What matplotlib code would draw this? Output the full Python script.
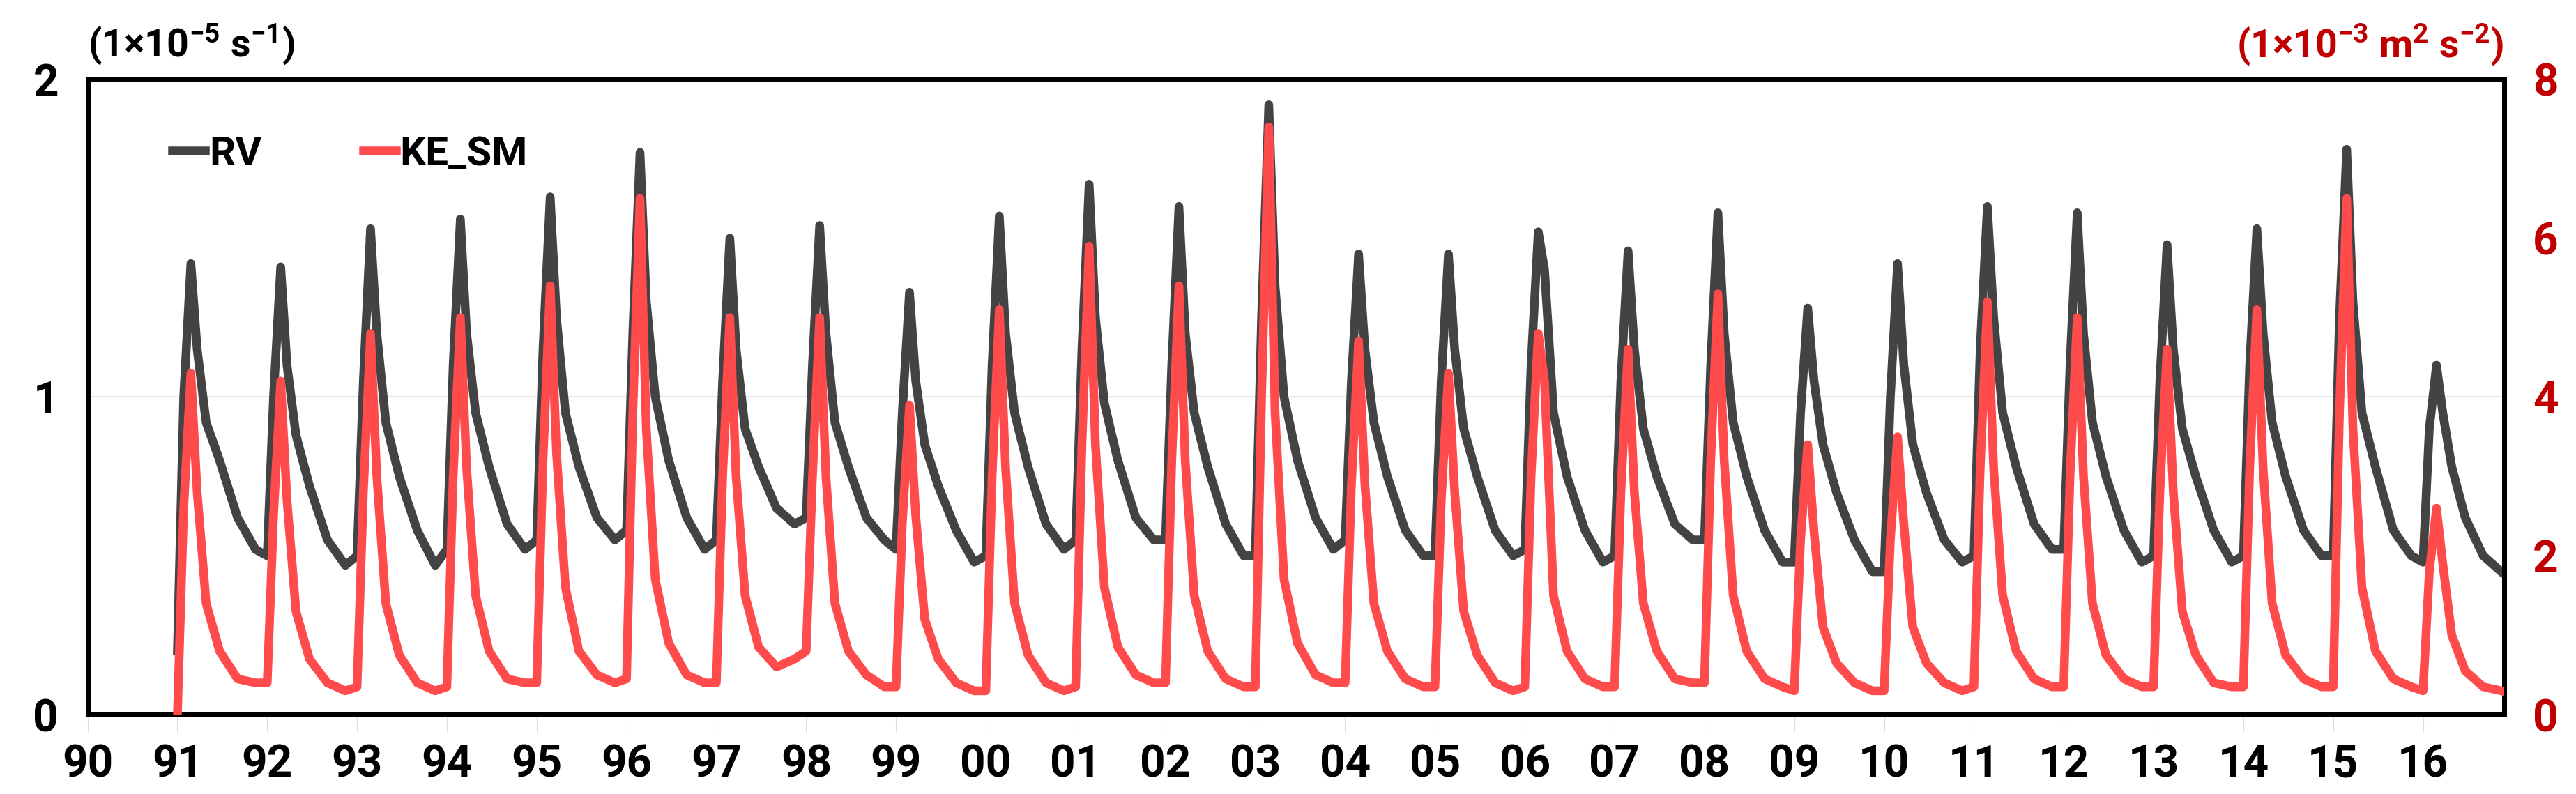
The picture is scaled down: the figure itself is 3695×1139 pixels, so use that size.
import numpy as np
import matplotlib.pyplot as plt

plt.rcParams['font.family'] = ['Roboto', 'DejaVu Sans']
plt.rcParams['font.weight'] = 'bold'
plt.rcParams['mathtext.default'] = 'regular'

years = list(range(1991, 2017))
# time offsets within each year for the key points below
offsets = [0.00, 0.07, 0.15, 0.22, 0.32, 0.47, 0.67, 0.87]

# RV (1e-5 s^-1), key points per year
rv = [
    [0.20, 1.00, 1.42, 1.15, 0.92, 0.80, 0.62, 0.52],
    [0.50, 1.00, 1.41, 1.10, 0.88, 0.72, 0.55, 0.47],
    [0.50, 1.05, 1.53, 1.20, 0.92, 0.75, 0.58, 0.47],
    [0.52, 1.10, 1.56, 1.20, 0.95, 0.78, 0.60, 0.52],
    [0.55, 1.15, 1.63, 1.25, 0.95, 0.78, 0.62, 0.55],
    [0.58, 1.20, 1.77, 1.30, 1.00, 0.80, 0.62, 0.52],
    [0.55, 1.05, 1.50, 1.15, 0.90, 0.78, 0.65, 0.60],
    [0.62, 1.10, 1.54, 1.20, 0.92, 0.78, 0.62, 0.55],
    [0.52, 0.95, 1.33, 1.05, 0.85, 0.72, 0.58, 0.48],
    [0.50, 1.10, 1.57, 1.20, 0.95, 0.78, 0.60, 0.52],
    [0.55, 1.15, 1.67, 1.25, 0.98, 0.80, 0.62, 0.55],
    [0.55, 1.10, 1.60, 1.20, 0.95, 0.78, 0.60, 0.50],
    [0.50, 1.25, 1.92, 1.35, 1.00, 0.80, 0.62, 0.52],
    [0.55, 1.05, 1.45, 1.15, 0.92, 0.75, 0.58, 0.50],
    [0.50, 1.05, 1.45, 1.15, 0.90, 0.75, 0.58, 0.50],
    [0.52, 1.10, 1.52, 1.40, 0.95, 0.75, 0.58, 0.48],
    [0.50, 1.05, 1.46, 1.15, 0.90, 0.75, 0.60, 0.55],
    [0.55, 1.10, 1.58, 1.20, 0.92, 0.75, 0.58, 0.48],
    [0.48, 0.95, 1.28, 1.05, 0.85, 0.70, 0.55, 0.45],
    [0.45, 1.00, 1.42, 1.10, 0.85, 0.70, 0.55, 0.48],
    [0.50, 1.15, 1.60, 1.25, 0.95, 0.78, 0.60, 0.52],
    [0.52, 1.10, 1.58, 1.20, 0.92, 0.75, 0.58, 0.48],
    [0.50, 1.05, 1.48, 1.15, 0.90, 0.75, 0.58, 0.48],
    [0.50, 1.10, 1.53, 1.20, 0.92, 0.75, 0.58, 0.50],
    [0.50, 1.25, 1.78, 1.30, 0.95, 0.78, 0.58, 0.50],
    [0.48, 0.90, 1.10, 0.95, 0.78, 0.62, 0.50, 0.45],
]

# KE_SM (1e-3 m^2 s^-2), key points per year
ke = [
    [0.00, 2.60, 4.30, 2.80, 1.40, 0.80, 0.45, 0.40],
    [0.40, 2.50, 4.20, 2.70, 1.30, 0.70, 0.40, 0.30],
    [0.35, 2.80, 4.80, 3.00, 1.40, 0.75, 0.40, 0.30],
    [0.35, 3.00, 5.00, 3.10, 1.50, 0.80, 0.45, 0.40],
    [0.40, 3.20, 5.40, 3.30, 1.60, 0.80, 0.50, 0.40],
    [0.45, 3.80, 6.50, 3.60, 1.70, 0.90, 0.50, 0.40],
    [0.40, 3.00, 5.00, 3.00, 1.50, 0.85, 0.60, 0.70],
    [0.80, 3.00, 5.00, 3.00, 1.40, 0.80, 0.50, 0.35],
    [0.35, 2.40, 3.90, 2.50, 1.20, 0.70, 0.40, 0.30],
    [0.30, 3.00, 5.10, 3.10, 1.40, 0.75, 0.40, 0.30],
    [0.35, 3.40, 5.90, 3.40, 1.60, 0.85, 0.50, 0.40],
    [0.40, 3.20, 5.40, 3.20, 1.50, 0.80, 0.45, 0.35],
    [0.35, 4.00, 7.40, 3.80, 1.70, 0.90, 0.50, 0.40],
    [0.40, 2.90, 4.70, 2.90, 1.40, 0.80, 0.45, 0.35],
    [0.35, 2.70, 4.30, 2.80, 1.30, 0.75, 0.40, 0.30],
    [0.35, 3.00, 4.80, 4.20, 1.50, 0.80, 0.45, 0.35],
    [0.35, 2.80, 4.60, 2.80, 1.40, 0.80, 0.45, 0.40],
    [0.40, 3.20, 5.30, 3.20, 1.50, 0.80, 0.45, 0.35],
    [0.30, 2.20, 3.40, 2.30, 1.10, 0.65, 0.40, 0.30],
    [0.30, 2.20, 3.50, 2.40, 1.10, 0.65, 0.40, 0.30],
    [0.35, 3.10, 5.20, 3.10, 1.50, 0.80, 0.45, 0.35],
    [0.35, 3.00, 5.00, 3.00, 1.40, 0.75, 0.45, 0.35],
    [0.35, 2.80, 4.60, 2.80, 1.30, 0.75, 0.40, 0.35],
    [0.35, 3.10, 5.10, 3.10, 1.40, 0.75, 0.45, 0.35],
    [0.35, 3.80, 6.50, 3.60, 1.60, 0.80, 0.45, 0.35],
    [0.30, 1.80, 2.60, 1.90, 1.00, 0.55, 0.35, 0.30],
]
tick_labels = ['90', '91', '92', '93', '94', '95', '96', '97', '98', '99',
               '00', '01', '02', '03', '04', '05', '06', '07', '08', '09',
               '10', '11', '12', '13', '14', '15', '16']

t = np.array([y + o for y in years for o in offsets])
rv_s = np.array(rv).ravel()
ke_s = np.array(ke).ravel()

fig = plt.figure(figsize=(36.95, 11.39), dpi=100)
ax = fig.add_axes([0.034, 0.10, 0.938, 0.80])
ax2 = ax.twinx()

rv_col = '#434343'
ke_col = '#FF4B4B'
red = '#C00000'

ax.plot(t, rv_s, color=rv_col, lw=9, label='RV', zorder=2, solid_joinstyle='round')
ax2.plot(t, ke_s, color=ke_col, lw=9, label='KE_SM', zorder=3, solid_joinstyle='round')

ax.set_xlim(1990, 2016.9)
ax.set_ylim(0, 2)
ax2.set_ylim(0, 8)
ax.set_yticks([0, 1, 2])
ax2.set_yticks([0, 2, 4, 6, 8])
ax.set_xticks(np.arange(1990, 2017))
ax.set_xticklabels(tick_labels)
ax.axhline(1, color='#e6e6e6', lw=1.5, zorder=0)

ax.tick_params(axis='x', length=18, color='#dddddd', labelsize=46, pad=12)
ax.tick_params(axis='y', length=0, labelsize=46, pad=30)
ax2.tick_params(axis='y', length=0, labelsize=46, pad=30, labelcolor=red)
for sp in ax2.spines.values():
    sp.set_linewidth(5)
for sp in ax.spines.values():
    sp.set_linewidth(5)

ax.text(0.0, 1.02, r'(1$\times$10$^{-5}$ s$^{-1}$)', transform=ax.transAxes,
        fontsize=40, fontweight='bold', ha='left', va='bottom')
ax.text(1.0, 1.02, r'(1$\times$10$^{-3}$ m$^{2}$ s$^{-2}$)', transform=ax.transAxes,
        fontsize=40, fontweight='bold', ha='right', va='bottom', color=red)

h1, l1 = ax.get_legend_handles_labels()
h2, l2 = ax2.get_legend_handles_labels()
leg = ax2.legend(h1 + h2, l1 + l2, loc='upper left', ncol=2, frameon=False,
                 fontsize=42, handlelength=0.8, handletextpad=0.1,
                 columnspacing=2.5, bbox_to_anchor=(0.02, 0.97))
for txt in leg.get_texts():
    txt.set_fontweight('bold')

fig.savefig('out.png', dpi=100)
